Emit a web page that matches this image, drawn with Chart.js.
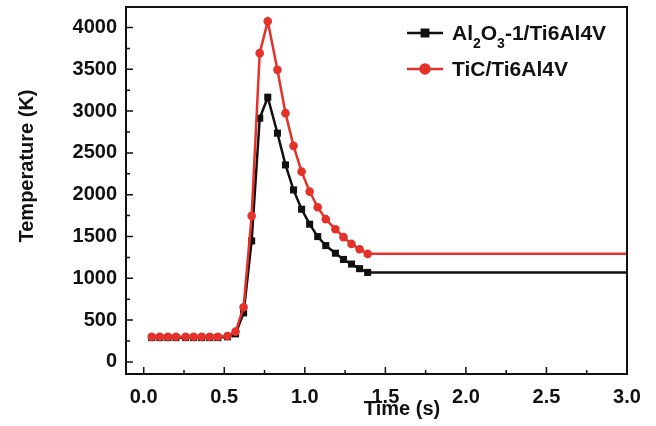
<!DOCTYPE html>
<html>
<head>
<meta charset="utf-8">
<script src="https://cdn.jsdelivr.net/npm/chart.js@4"></script>
<style>
  html, body { margin: 0; padding: 0; background: #fff; }
</style>
</head>
<body>
<canvas id="temp-chart" width="656" height="426"></canvas>
<script>
// time (s) of each sample, last entry is the end of the run
var timeSteps = [0.05, 0.10, 0.15, 0.20, 0.26, 0.31, 0.36, 0.41, 0.46, 0.52,
  0.57, 0.62, 0.67, 0.72, 0.77, 0.83, 0.88, 0.93, 0.98, 1.03,
  1.08, 1.13, 1.19, 1.24, 1.29, 1.34, 1.39, 3.0];

// temperature (K)
var tempAl2O3 = [290, 290, 290, 290, 290, 290, 290, 290, 290, 300,
  335, 586, 1447, 2915, 3166, 2736, 2356, 2057, 1826, 1647,
  1499, 1391, 1300, 1225, 1170, 1115, 1070, 1070];
var tempTiC = [300, 300, 300, 300, 300, 300, 300, 300, 300, 310,
  362, 654, 1746, 3693, 4075, 3493, 2975, 2584, 2276, 2037,
  1850, 1707, 1587, 1492, 1411, 1348, 1292, 1292];

var xTickValues = [0, 0.5, 1.0, 1.5, 2.0, 2.5, 3.0];
var yTickValues = [0, 500, 1000, 1500, 2000, 2500, 3000, 3500, 4000];

var FONT = '"Liberation Sans", Arial, sans-serif';
var INK = '#111111';
var RED = '#e4322b';

function toPoints(xs, ys) {
  return xs.map(function (x, i) {
    return { x: x, y: ys[i] };
  });
}

function hideLast(size) {
  return function (ctx) {
    return ctx.dataIndex === timeSteps.length - 1 ? 0 : size;
  };
}

function fixedTicks(values) {
  return function (scale) {
    scale.ticks = values.map(function (v) { return { value: v }; });
  };
}

// fixed box size, no extra room for overhanging labels
function fixedSize(dim, size) {
  return function (s) {
    s[dim] = size;
    s.paddingTop = s.paddingBottom = s.paddingLeft = s.paddingRight = 0;
  };
}

// box round the plot plus inward major/minor ticks
var framePlugin = {
  id: 'frame',
  afterDraw: function (chart) {
    var ctx = chart.ctx;
    var area = chart.chartArea;
    var xs = chart.scales.x;
    var ys = chart.scales.y;
    ctx.save();
    ctx.strokeStyle = INK;
    ctx.lineWidth = 2;
    ctx.strokeRect(area.left, area.top, area.right - area.left, area.bottom - area.top);

    ctx.lineWidth = 1.5;
    ctx.beginPath();
    xs.ticks.forEach(function (t, i) {
      var px = xs.getPixelForValue(t.value);
      ctx.moveTo(px, area.bottom);
      ctx.lineTo(px, area.bottom - 7);
      if (i < xs.ticks.length - 1) {
        var mx = xs.getPixelForValue((t.value + xs.ticks[i + 1].value) / 2);
        ctx.moveTo(mx, area.bottom);
        ctx.lineTo(mx, area.bottom - 4);
      }
    });
    ys.ticks.forEach(function (t, i) {
      var py = ys.getPixelForValue(t.value);
      ctx.moveTo(area.left, py);
      ctx.lineTo(area.left + 7, py);
      if (i < ys.ticks.length - 1) {
        var my = ys.getPixelForValue((t.value + ys.ticks[i + 1].value) / 2);
        ctx.moveTo(area.left, my);
        ctx.lineTo(area.left + 4, my);
      }
    });
    ctx.stroke();
    ctx.restore();
  }
};

// axis titles
var titlePlugin = {
  id: 'axisTitles',
  afterDraw: function (chart) {
    var ctx = chart.ctx;
    ctx.save();
    ctx.fillStyle = INK;
    ctx.font = 'bold 20px ' + FONT;
    ctx.textAlign = 'center';
    ctx.textBaseline = 'middle';
    ctx.fillText('Time (s)', 402, 409);
    ctx.translate(27, 166);
    ctx.rotate(-Math.PI / 2);
    ctx.fillText('Temperature (K)', 0, 0);
    ctx.restore();
  }
};

// legend with the sub-scripted formula
var legendPlugin = {
  id: 'formulaLegend',
  afterDraw: function (chart) {
    var ctx = chart.ctx;
    var x0 = 407, x1 = 443, tx = 452;
    var rows = [
      { y: 33, color: INK, marker: 'rect',
        parts: [['Al', 0], ['2', 1], ['O', 0], ['3', 1], ['-1/Ti6Al4V', 0]] },
      { y: 69, color: RED, marker: 'circle', parts: [['TiC/Ti6Al4V', 0]] }
    ];
    ctx.save();
    rows.forEach(function (row) {
      ctx.strokeStyle = row.color;
      ctx.lineWidth = 2.5;
      ctx.beginPath();
      ctx.moveTo(x0, row.y);
      ctx.lineTo(x1, row.y);
      ctx.stroke();
      Chart.helpers.drawPoint(ctx, {
        pointStyle: row.marker, radius: 4.5, borderWidth: 1, rotation: 0
      }, (x0 + x1) / 2, row.y);
      ctx.fillStyle = row.color;
      ctx.fill();

      var x = tx;
      ctx.fillStyle = INK;
      ctx.textBaseline = 'alphabetic';
      ctx.textAlign = 'left';
      row.parts.forEach(function (p) {
        ctx.font = (p[1] ? 'bold 14px ' : 'bold 21px ') + FONT;
        ctx.fillText(p[0], x, row.y + 7 + (p[1] ? 8 : 0));
        x += ctx.measureText(p[0]).width;
      });
    });
    ctx.restore();
  }
};

var tickFont = { family: FONT, size: 20, weight: 'bold' };

new Chart(document.getElementById('temp-chart').getContext('2d'), {
  type: 'line',
  data: {
    datasets: [{
      label: 'TiC/Ti6Al4V',
      data: toPoints(timeSteps, tempTiC),
      borderColor: RED,
      backgroundColor: RED,
      borderWidth: 2.5,
      pointStyle: 'circle',
      pointRadius: hideLast(4.3),
      pointBorderWidth: 0,
      tension: 0,
      order: 0
    }, {
      label: 'Al2O3-1/Ti6Al4V',
      data: toPoints(timeSteps, tempAl2O3),
      borderColor: INK,
      backgroundColor: INK,
      borderWidth: 2.5,
      pointStyle: 'rect',
      pointRadius: hideLast(5),
      pointBorderWidth: 0,
      tension: 0,
      order: 1
    }]
  },
  options: {
    responsive: false,
    animation: false,
    layout: { padding: { top: 7, right: 29, bottom: 0, left: 0 } },
    plugins: {
      legend: { display: false },
      tooltip: { enabled: false }
    },
    scales: {
      x: {
        type: 'linear',
        min: -0.11,
        max: 3.0,
        afterBuildTicks: fixedTicks(xTickValues),
        afterFit: fixedSize('height', 52),
        grid: { display: false, drawTicks: false },
        border: { display: false },
        ticks: {
          padding: 11,
          color: INK,
          font: tickFont,
          maxRotation: 0,
          autoSkip: false,
          callback: function (v) { return v.toFixed(1); }
        }
      },
      y: {
        min: -145,
        max: 4245,
        afterBuildTicks: fixedTicks(yTickValues),
        afterFit: fixedSize('width', 126),
        grid: { display: false, drawTicks: false },
        border: { display: false },
        ticks: {
          padding: 9,
          color: INK,
          font: tickFont,
          autoSkip: false,
          callback: function (v) { return String(v); }
        }
      }
    }
  },
  plugins: [framePlugin, titlePlugin, legendPlugin]
});
</script>
</body>
</html>
